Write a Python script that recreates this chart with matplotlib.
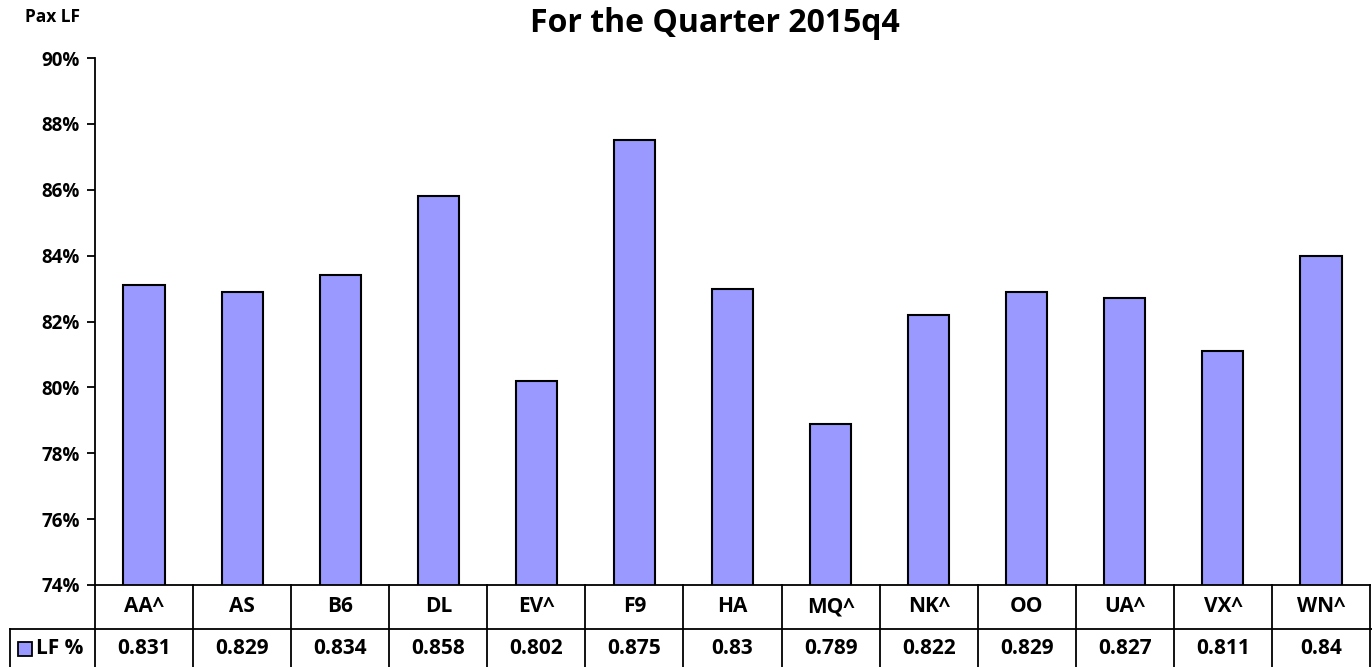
import matplotlib.pyplot as plt
from matplotlib.transforms import blended_transform_factory
from matplotlib.patches import Rectangle

carriers = ["AA^", "AS", "B6", "DL", "EV^", "F9", "HA", "MQ^", "NK^", "OO", "UA^", "VX^", "WN^"]
load_factor = [0.831, 0.829, 0.834, 0.858, 0.802, 0.875, 0.83, 0.789, 0.822, 0.829, 0.827, 0.811, 0.84]
table_labels = ["0.831", "0.829", "0.834", "0.858", "0.802", "0.875", "0.83", "0.789", "0.822",
                "0.829", "0.827", "0.811", "0.84"]
yticks = [0.74, 0.76, 0.78, 0.80, 0.82, 0.84, 0.86, 0.88, 0.90]

W, H = 1372, 667
bar_color = "#9999FF"
font = "Open Sans"

fig = plt.figure(figsize=(W / 100, H / 100), dpi=100)
ax = fig.add_axes([95 / W, (H - 585) / H, (1370 - 95) / W, (585 - 58) / H])

x = range(len(carriers))
ax.bar(x, load_factor, width=0.42, color=bar_color, edgecolor="black", linewidth=1.5, zorder=2)

ax.set_xlim(-0.5, len(carriers) - 0.5)
ax.set_ylim(0.74, 0.90)
ax.set_yticks(yticks)
ax.set_yticklabels([f"{int(round(v * 100))}%" for v in yticks], fontsize=13.5, fontweight="bold",
                   family=font)
ax.set_xticks([])
ax.tick_params(axis="y", direction="out", length=6, width=1.3, pad=5)
for side in ["top", "right"]:
    ax.spines[side].set_visible(False)
ax.spines["left"].set_linewidth(1.3)
ax.spines["bottom"].set_linewidth(1.3)

# --- data table below the axis ---
tr = blended_transform_factory(ax.transData, fig.transFigure)
y_top, y_mid, y_bot = (H - 585) / H, (H - 629) / H, 0.0
lw = 1.3
for i in range(len(carriers) + 1):
    ax.plot([i - 0.5, i - 0.5], [y_top, y_bot], color="black", lw=lw, transform=tr, clip_on=False)
for i, (c, v) in enumerate(zip(carriers, table_labels)):
    ax.text(i, (y_top + y_mid) / 2, c, transform=tr, ha="center", va="center",
            fontsize=15, fontweight="bold", family=font)
    ax.text(i, (y_mid + y_bot) / 2, v, transform=tr, ha="center", va="center",
            fontsize=15, fontweight="bold", family=font)

# horizontal lines of the table in figure coords
fig.add_artist(plt.Line2D([10 / W, 1372 / W], [y_mid, y_mid], color="black", lw=lw))
fig.add_artist(plt.Line2D([10 / W, 10 / W], [y_mid, 0], color="black", lw=lw))

# legend key in the row header
fig.add_artist(Rectangle((18 / W, (H - 656) / H), 14 / W, 14 / H, facecolor=bar_color,
                         edgecolor="black", lw=1.3))
fig.text(36 / W, (H - 648) / H, "LF %", ha="left", va="center", fontsize=15,
         fontweight="bold", family=font)

fig.text(25 / W, (H - 17) / H, "Pax LF", ha="left", va="center", fontsize=12.5,
         fontweight="bold", family=font)
fig.text(715 / W, (H - 24) / H, "For the Quarter 2015q4", ha="center", va="center",
         fontsize=23, fontweight="bold", family=font)

fig.savefig("out.png", dpi=100)
